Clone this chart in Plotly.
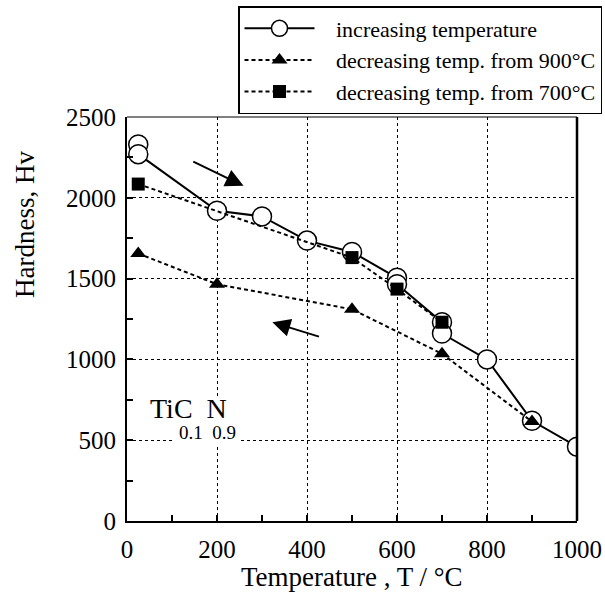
import plotly.graph_objects as go

# ---- data ----
inc_T = [25, 25, 200, 300, 400, 500, 600, 600, 700, 700, 800, 900, 1000]
inc_H = [2330, 2270, 1920, 1885, 1735, 1665, 1505, 1465, 1230, 1160, 1000, 620, 460]

dec900_T = [25, 200, 500, 700, 900]
dec900_H = [1655, 1465, 1310, 1035, 615]

dec700_T = [25, 500, 600, 700]
dec700_H = [2085, 1630, 1435, 1230]

names = ["increasing temperature", "decreasing temp. from 900°C", "decreasing temp. from 700°C"]

x_ticks = [0, 200, 400, 600, 800, 1000]
y_ticks = [0, 500, 1000, 1500, 2000, 2500]

FONT = "Liberation Serif, Times New Roman, serif"
PAD = "\u00a0\u00a0\u00a0"

W, H = 605, 592
L, R, T, B = 127, 28, 117, 71
PW, PH = W - L - R, H - T - B


def px2paper(px, py):
    return (px - L) / PW, (H - B - py) / PH


fig = go.Figure()
fig.add_trace(go.Scatter(
    x=inc_T, y=inc_H, name=PAD + names[0], mode="lines+markers",
    line=dict(color="black", width=2),
    marker=dict(symbol="circle", size=19, color="white", line=dict(color="black", width=1.5)),
))
fig.add_trace(go.Scatter(
    x=dec900_T, y=dec900_H, name=PAD + names[1], mode="lines+markers",
    line=dict(color="black", width=2, dash="4px,3px"),
    marker=dict(symbol="triangle-up", size=14, color="black"),
))
fig.add_trace(go.Scatter(
    x=dec700_T, y=dec700_H, name=PAD + names[2], mode="lines+markers",
    line=dict(color="black", width=2, dash="4px,3px"),
    marker=dict(symbol="square", size=13, color="black"),
))

axis_common = dict(
    showline=True, linecolor="black", linewidth=2, mirror=False,
    showgrid=True, gridcolor="black", gridwidth=1, griddash="dot",
    ticks="inside", ticklen=6, tickwidth=1.5, tickcolor="black",
    zeroline=False,
    tickfont=dict(family=FONT, size=25, color="black"),
)

fig.update_xaxes(
    range=[0, 1000], tickvals=x_ticks, ticktext=[str(v) for v in x_ticks],
    minor=dict(dtick=100, tick0=0, ticks="inside", ticklen=6, tickwidth=1.5, tickcolor="black", showgrid=False),
    ticklabelstandoff=5,
    **axis_common,
)
fig.update_yaxes(
    range=[0, 2500], tickvals=y_ticks, ticktext=[str(v) for v in y_ticks],
    minor=dict(dtick=250, tick0=0, ticks="inside", ticklen=6, tickwidth=1.5, tickcolor="black", showgrid=False),
    ticklabelstandoff=4,
    **axis_common,
)

# frame: thick right, thin top
fig.add_shape(type="line", xref="paper", yref="paper", x0=1, x1=1, y0=0, y1=1,
              line=dict(color="black", width=2.5), layer="above")
fig.add_shape(type="line", xref="paper", yref="paper", x0=0, x1=1, y0=1, y1=1,
              line=dict(color="black", width=1), layer="above")

# white box behind composition label
fig.add_shape(type="rect", xref="x", yref="y", x0=100, x1=250, y0=470, y1=760,
              fillcolor="white", line=dict(width=0), layer="between")

fig.add_annotation(x=137, y=695, xref="x", yref="y", text="TiC  N", showarrow=False,
                   font=dict(family=FONT, size=28, color="black"), xanchor="center", yanchor="middle")
fig.add_annotation(x=178, y=545, xref="x", yref="y", text="0.1  0.9", showarrow=False,
                   font=dict(family=FONT, size=19, color="black"), xanchor="center", yanchor="middle")

# arrows
fig.add_annotation(x=259, y=2074, ax=144, ay=2228, xref="x", yref="y", axref="x", ayref="y",
                   text="", showarrow=True, arrowhead=2, arrowsize=1.8, arrowwidth=2, arrowcolor="black")
fig.add_annotation(x=323, y=1230, ax=430, ay=1138, xref="x", yref="y", axref="x", ayref="y",
                   text="", showarrow=True, arrowhead=2, arrowsize=1.8, arrowwidth=2, arrowcolor="black")

# axis titles
tx, ty = px2paper(352, 577)
fig.add_annotation(x=tx, y=ty, xref="paper", yref="paper", text="Temperature , T / °C", showarrow=False,
                   xanchor="center", yanchor="middle",
                   font=dict(family=FONT, size=27, color="black"))
hx, hy = px2paper(25, 225)
fig.add_annotation(x=hx, y=hy, xref="paper", yref="paper", text="Hardness, Hv", textangle=-90, showarrow=False,
                   xanchor="center", yanchor="middle",
                   font=dict(family=FONT, size=27, color="black"))

lx, ly = px2paper(238, 6)
fig.update_layout(
    width=W, height=H,
    margin=dict(l=L, r=R, t=T, b=B, autoexpand=False),
    paper_bgcolor="white", plot_bgcolor="white",
    font=dict(family=FONT, color="black"),
    showlegend=True,
    legend=dict(
        x=lx, y=ly,
        xanchor="left", yanchor="top",
        bgcolor="white", bordercolor="black", borderwidth=1.5,
        font=dict(family=FONT, size=22, color="black"),
        itemwidth=70, tracegroupgap=0,
    ),
)

fig.write_html("out.html")
